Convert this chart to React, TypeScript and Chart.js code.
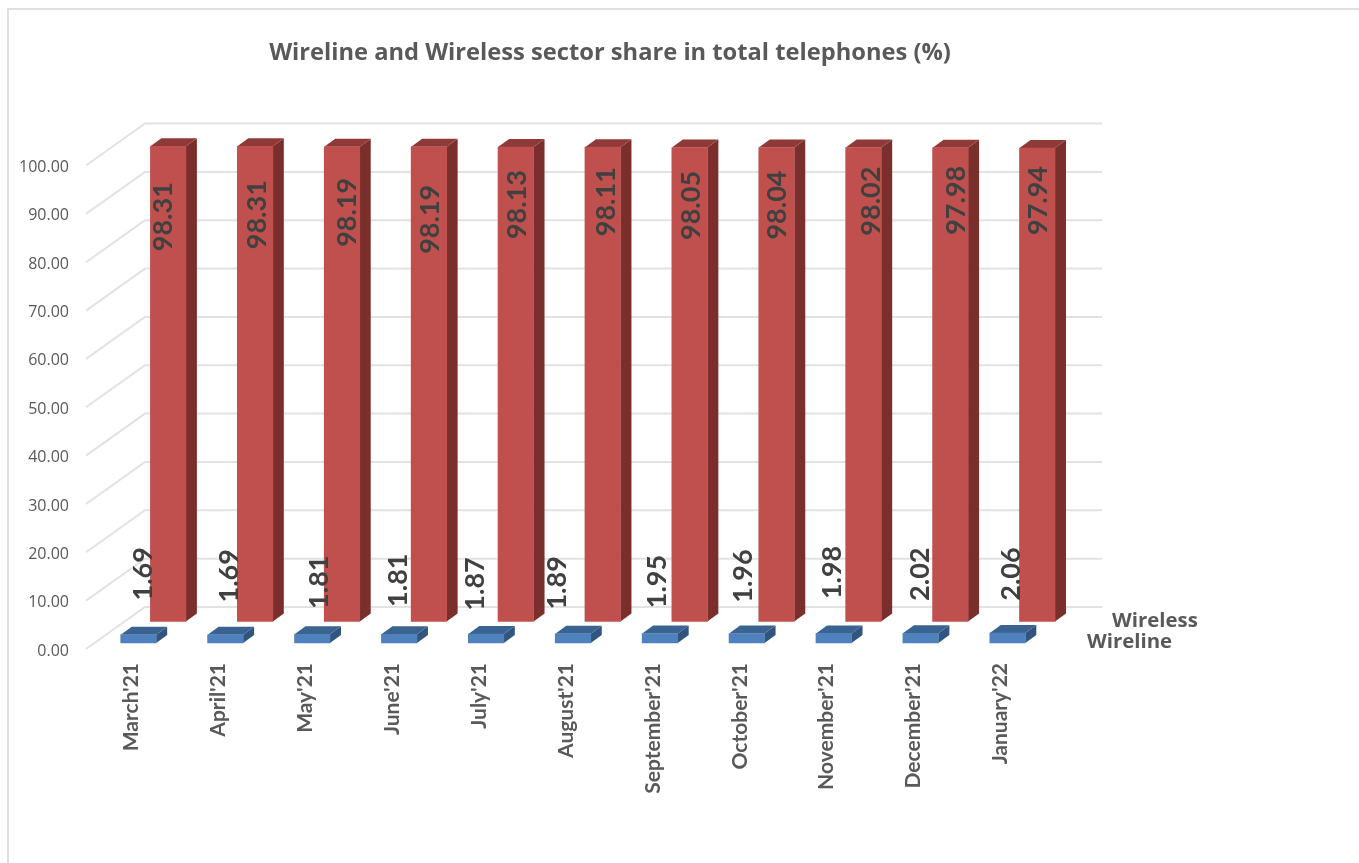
import React, { useEffect, useRef } from "react";
import { Chart, registerables } from "chart.js";

Chart.register(...registerables);

const TITLE = "Wireline and Wireless sector share in total telephones (%)";
const months = ["March'21", "April'21", "May'21", "June'21", "July'21", "August'21", "September'21", "October'21", "November'21", "December'21", "January'22"];
const wireline = [1.69, 1.69, 1.81, 1.81, 1.87, 1.89, 1.95, 1.96, 1.98, 2.02, 2.06];
const wireless = [98.31, 98.31, 98.19, 98.19, 98.13, 98.11, 98.05, 98.04, 98.02, 97.98, 97.94];

// Hand-placed label offsets of the original, relative to each bar's face.
const wirelineNudgeX = [4.5, 3.6, 6.7, -1.2, -11, -16, -3, -4, -1, 0, 3.5];
const wirelineNudgeY = [-61, -59, -52, -54, -50, -51, -52, -57.5, -61, -59, -59];
const wirelessNudgeX = [-4.5, 2.5, 5.2, 1.8, 1.5, 3.5, 2.1, 1.2, 7.8, 5.9, 1.5];
const wirelessNudgeY = [70.5, 68.5, 65.5, 72.5, 57.5, 54.5, 58, 57.5, 53.5, 52.5, 52.5];

const FONT = "Lato, 'Open Sans', sans-serif";
const WIDE_FONT = "'Open Sans', Lato, sans-serif";
const TEXT = "#595959";
const LABEL = "#404040";
const GRID = "#e2e2e2";
const DEPTH = { x: 11, y: -8 };
const WALL = { x: 59, y: -42, right: 1102 };

const looks: any[] = [
  { dx: 7, dy: -5, side: "#31557f", top: "#3a6391", nudgeX: wirelineNudgeX, nudgeY: wirelineNudgeY },
  { dx: 36.7, dy: -26.5, side: "#7b2f2d", top: "#8f3a38", nudgeX: wirelessNudgeX, nudgeY: wirelessNudgeY },
];

const wallPlugin = {
  id: "wall",
  beforeDatasetsDraw(chart: any) {
    const { ctx, chartArea, scales } = chart;
    ctx.save();
    ctx.strokeStyle = "#e0e0e0";
    ctx.lineWidth = 2;
    ctx.beginPath();
    ctx.moveTo(8, 863);
    ctx.lineTo(8, 9);
    ctx.lineTo(1359, 9);
    ctx.stroke();
    ctx.strokeStyle = GRID;
    ctx.lineWidth = 2;
    for (const tick of scales.y.ticks) {
      const y = scales.y.getPixelForValue(tick.value);
      const x = chartArea.left - 2;
      ctx.beginPath();
      ctx.moveTo(x, y + 1);
      ctx.lineTo(x + WALL.x, y + 1 + WALL.y);
      ctx.lineTo(WALL.right, y + 1 + WALL.y);
      ctx.stroke();
    }
    ctx.restore();
  },
};

const prismPlugin = {
  id: "prism",
  afterLayout(chart: any) {
    chart.titleBlock.left = 0;
    chart.titleBlock.right = 1220;
  },
  beforeDatasetDraw(chart: any, args: any) {
    const { ctx } = chart;
    const look = looks[args.index];
    ctx.save();
    ctx.translate(look.dx, look.dy);
    for (const bar of args.meta.data) {
      const { x, y, base, width } = bar.getProps(["x", "y", "base", "width"], true);
      const l = x - width / 2;
      const r = x + width / 2;
      ctx.fillStyle = look.side;
      ctx.beginPath();
      ctx.moveTo(r, y);
      ctx.lineTo(r + DEPTH.x, y + DEPTH.y);
      ctx.lineTo(r + DEPTH.x, base + DEPTH.y);
      ctx.lineTo(r, base);
      ctx.closePath();
      ctx.fill();
      ctx.fillStyle = look.top;
      ctx.beginPath();
      ctx.moveTo(l, y);
      ctx.lineTo(l + DEPTH.x, y + DEPTH.y);
      ctx.lineTo(r + DEPTH.x, y + DEPTH.y);
      ctx.lineTo(r, y);
      ctx.closePath();
      ctx.fill();
    }
  },
  afterDatasetDraw(chart: any) {
    chart.ctx.restore();
  },
  afterDatasetsDraw(chart: any) {
    const { ctx, data } = chart;
    ctx.save();
    ctx.fillStyle = LABEL;
    ctx.textAlign = "center";
    ctx.textBaseline = "middle";
    ctx.font = `bold 27px ${FONT}`;
    data.datasets.forEach((ds: any, d: number) => {
      const look = looks[d];
      chart.getDatasetMeta(d).data.forEach((bar: any, i: number) => {
        ctx.save();
        ctx.translate(bar.x + look.dx + look.nudgeX[i], bar.y + look.dy + look.nudgeY[i]);
        ctx.rotate(-Math.PI / 2);
        ctx.fillText(Number(ds.data[i]).toFixed(2), 0, 0);
        ctx.restore();
      });
    });
    ctx.fillStyle = TEXT;
    ctx.font = `bold 20.4px ${WIDE_FONT}`;
    ctx.textAlign = "left";
    ctx.fillText(data.datasets[1].label, 1112, 621);
    ctx.fillText(data.datasets[0].label, 1087, 642);
    ctx.restore();
  },
};

export default function App() {
  const ref = useRef<HTMLCanvasElement>(null);
  useEffect(() => {
    const chart = new Chart(ref.current as HTMLCanvasElement, {
      type: "bar",
      data: {
        labels: months,
        datasets: [
          { label: "Wireline", data: wireline, backgroundColor: "#4f81bd", clip: false } as any,
          { label: "Wireless", data: wireless, backgroundColor: "#c0504d", clip: false } as any,
        ],
      },
      options: {
        animation: false,
        responsive: false,
        layout: { padding: { left: 0, top: 0, bottom: 0, right: 315 } },
        datasets: { bar: { grouped: false, barThickness: 35.5 } } as any,
        plugins: {
          legend: { display: false },
          tooltip: { enabled: false },
          title: {
            display: true,
            text: TITLE,
            color: TEXT,
            font: { family: WIDE_FONT, size: 23.7, weight: "bold" },
            padding: { top: 39, bottom: 97.1 },
          },
        },
        scales: {
          x: {
            grid: { display: false, drawTicks: false },
            border: { display: false },
            afterFit: (s: any) => { s.height = 215; },
            ticks: {
              autoSkip: false,
              minRotation: 90,
              maxRotation: 90,
              padding: 15,
              color: TEXT,
              font: { family: FONT, size: 21, weight: "bold" },
            },
          },
          y: {
            min: 0,
            max: 100,
            grid: { display: false, drawTicks: false },
            border: { display: false },
            afterFit: (s: any) => { s.width = 88; },
            ticks: {
              stepSize: 10,
              padding: 19,
              labelOffset: 3,
              color: TEXT,
              font: { family: WIDE_FONT, size: 16 },
              callback: (v: any) => Number(v).toFixed(2),
            },
          },
        },
      },
      plugins: [wallPlugin, prismPlugin],
    } as any);
    return () => chart.destroy();
  }, []);
  return (
    <canvas
      ref={ref}
      width={1359}
      height={863}
      style={{ position: "absolute", left: 0, top: 0, display: "block" }}
    />
  );
}
